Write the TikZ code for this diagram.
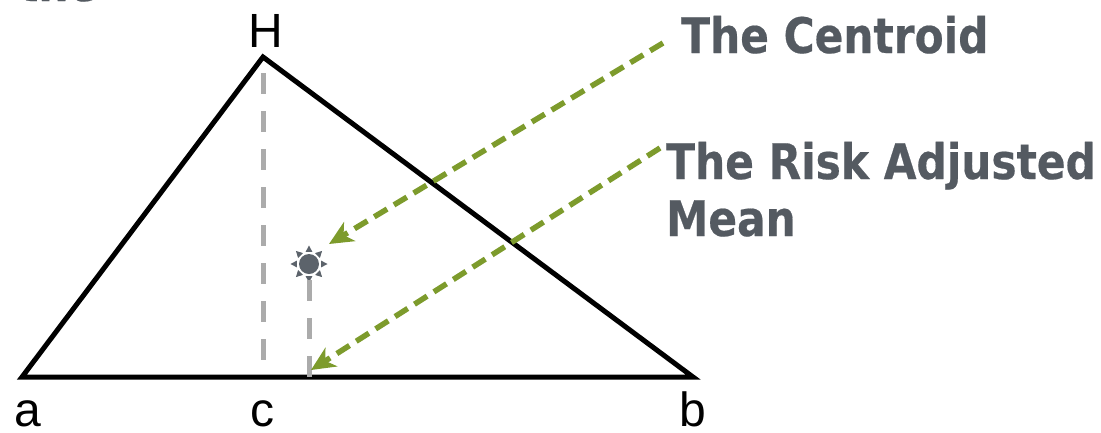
\documentclass[tikz,border=0pt]{standalone}
\usepackage{fontspec}
\setmainfont{Liberation Sans}
\newfontfamily\calloutfont{DejaVu Sans Condensed}[FakeStretch=0.96,FakeBold=0.4]
\usetikzlibrary{arrows.meta,positioning,calc}
\definecolor{slate}{HTML}{545A61}
\definecolor{leaf}{HTML}{7D9B2C}
\definecolor{dropgrey}{HTML}{ABABAB}
\definecolor{sungrey}{HTML}{5C636B}
\tikzset{
  vertexlabel/.style={font=\fontsize{48}{48}\selectfont,text=black,inner sep=0pt,text depth=0pt,anchor=base},
  callout/.style={font=\calloutfont\bfseries\fontsize{49}{49}\selectfont,text=slate,inner sep=0pt,anchor=base west},
  edge/.style={line width=5pt,draw=black,line join=miter},
  drop/.style={line width=5pt,draw=dropgrey,dash pattern=on 21pt off 17pt},
  pointer/.style={-{Stealth[length=24pt,width=22pt,inset=7pt]},line width=5.5pt,draw=leaf,dash pattern=on 15pt off 8pt},
  sunbody/.style={circle,fill=sungrey,inner sep=0pt,minimum size=20pt},
}
\begin{document}
\begin{tikzpicture}[x=1pt,y=-1pt]
  \useasboundingbox (0,0) rectangle (1101,432);
  % triangle corners
  \coordinate (A) at (22,377);
  \coordinate (B) at (693,377);
  \coordinate (H) at (263,57);
  \coordinate (Htop) at (263,73);
  \coordinate (C) at (263,361);
  \coordinate (D) at (309,377);
  \draw[edge] (A) -- (H) -- (B) -- cycle;

  \node[vertexlabel] (hlab) at (266,47) {H};
  \node[vertexlabel] (alab) at (28,426) {a};
  \node[vertexlabel] (clab) at (262,426) {c};
  \node[vertexlabel] (blab) at (693,426) {b};

  % drop lines
  \draw[drop] (Htop) -- (C);
  \node[sunbody] (sun) at (309,264) {};
  \foreach \ang in {0,45,...,315}
    \fill[sungrey] ($(sun.center)+(\ang:18.5)$) -- ($(sun.center)+(\ang+16:12.5)$) -- ($(sun.center)+(\ang-16:12.5)$) -- cycle;
  \draw[drop] (309,280) -- (D);

  % callouts
  \node[callout] (the) at (18,1) {the};
  \node[callout] (centroid) at (681,53) {The Centroid};
  \node[callout] (risk) at (666,179) {The Risk Adjusted};
  \node[callout] (mean) at (666,236) {Mean};
  \coordinate (cstart) at (663,43);
  \coordinate (cend) at (329,244);
  \coordinate (rstart) at (660,148);
  \coordinate (rend) at (311,370);
  \draw[pointer] (cstart) -- (cend);
  \draw[pointer] (rstart) -- (rend);
\end{tikzpicture}
\end{document}
